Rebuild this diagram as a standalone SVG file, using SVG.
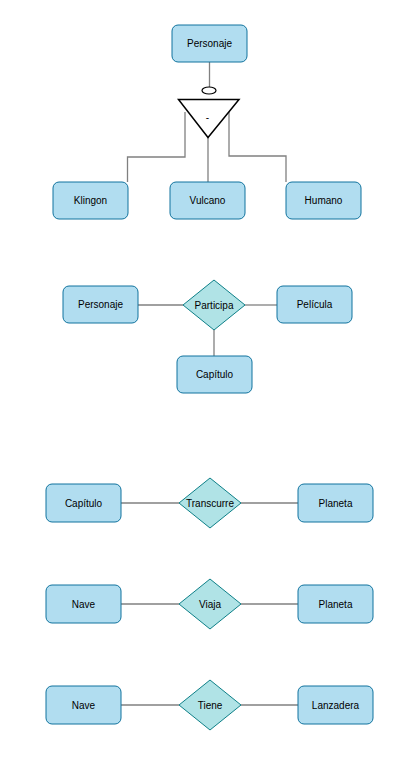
<svg xmlns="http://www.w3.org/2000/svg" width="412" height="757" viewBox="0 0 412 757">
<style>
.e{fill:#b1ddf0;stroke:#10739e;stroke-width:1}
.r{fill:#b0e3e6;stroke:#0e8088;stroke-width:1}
.t{font-family:"Liberation Sans",Arial,sans-serif;font-size:10px;fill:#000;text-anchor:middle;dominant-baseline:central}
.c{fill:none;stroke:#808080;stroke-width:1.3}
</style>
<rect width="412" height="757" fill="#fff"/>
<g id="connectors">
<path class="c" d="M209.5 62 V87"/>
<path class="c" d="M185 112 V157 H127.5 V182"/>
<path class="c" d="M208 137 V182"/>
<path class="c" d="M229 112 V156 H286 V182"/>
<path class="c" d="M138 305 H183"/>
<path class="c" d="M245 305 H277"/>
<path class="c" d="M214 330 V356"/>
<path class="c" d="M121 503 H179"/>
<path class="c" d="M241 503 H298"/>
<path class="c" d="M121 604 H179"/>
<path class="c" d="M241 604 H298"/>
<path class="c" d="M121 705 H179"/>
<path class="c" d="M241 705 H298"/>
</g>
<g id="personaje1"><rect class="e" x="172" y="25" width="75" height="37" rx="6"/><text class="t" x="209.5" y="43.5">Personaje</text></g>
<g id="isa">
<ellipse cx="209" cy="90.5" rx="7" ry="3.5" fill="#fff" stroke="#000" stroke-width="1.2"/>
<polygon points="178.5,99.5 239,99.5 208,137.5" fill="#fff" stroke="#000" stroke-width="1.5"/>
<text class="t" x="207.5" y="117">-</text>
</g>
<g id="klingon"><rect class="e" x="53" y="182" width="75" height="37" rx="6"/><text class="t" x="90.5" y="200.5">Klingon</text></g>
<g id="vulcano"><rect class="e" x="170" y="182" width="75" height="37" rx="6"/><text class="t" x="207.5" y="200.5">Vulcano</text></g>
<g id="humano"><rect class="e" x="286" y="182" width="75" height="37" rx="6"/><text class="t" x="323.5" y="200.5">Humano</text></g>
<g id="personaje2"><rect class="e" x="63" y="286" width="75" height="37" rx="6"/><text class="t" x="100.5" y="304.5">Personaje</text></g>
<g id="participa"><polygon class="r" points="183,305 214,280 245,305 214,330"/><text class="t" x="214" y="305">Participa</text></g>
<g id="pelicula"><rect class="e" x="277" y="286" width="75" height="37" rx="6"/><text class="t" x="314.5" y="304.5">Película</text></g>
<g id="capitulo1"><rect class="e" x="177" y="356" width="75" height="37" rx="6"/><text class="t" x="214.5" y="374.5">Capítulo</text></g>
<g id="capitulo2"><rect class="e" x="46" y="484" width="75" height="38" rx="6"/><text class="t" x="83.5" y="503">Capítulo</text></g>
<g id="transcurre"><polygon class="r" points="179,503 210,478 241,503 210,528"/><text class="t" x="210" y="503">Transcurre</text></g>
<g id="planeta1"><rect class="e" x="298" y="484" width="75" height="38" rx="6"/><text class="t" x="335.5" y="503">Planeta</text></g>
<g id="nave1"><rect class="e" x="46" y="585" width="75" height="38" rx="6"/><text class="t" x="83.5" y="604">Nave</text></g>
<g id="viaja"><polygon class="r" points="179,604 210,579 241,604 210,629"/><text class="t" x="210" y="604">Viaja</text></g>
<g id="planeta2"><rect class="e" x="298" y="585" width="75" height="38" rx="6"/><text class="t" x="335.5" y="604">Planeta</text></g>
<g id="nave2"><rect class="e" x="46" y="686" width="75" height="38" rx="6"/><text class="t" x="83.5" y="705">Nave</text></g>
<g id="tiene"><polygon class="r" points="179,705 210,680 241,705 210,730"/><text class="t" x="210" y="705">Tiene</text></g>
<g id="lanzadera"><rect class="e" x="298" y="686" width="75" height="38" rx="6"/><text class="t" x="335.5" y="705">Lanzadera</text></g>
</svg>
